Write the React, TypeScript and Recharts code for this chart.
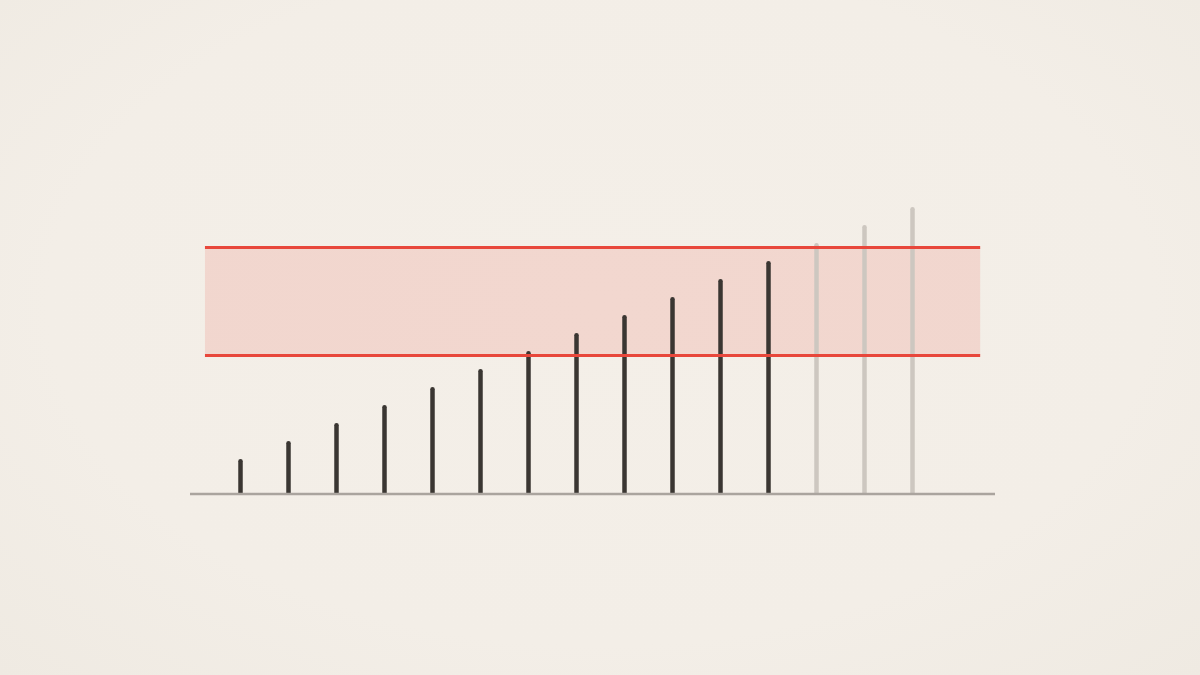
import React from "react";
import { ComposedChart, Bar, XAxis, YAxis, ReferenceArea, ReferenceLine } from "recharts";

const positions = [1, 2, 3, 4, 5, 6, 7, 8, 9, 10, 11, 12, 13, 14, 15];
const values = [35, 53, 71, 89, 107, 125, 143, 161, 179, 197, 215, 233, 251, 269, 287];
const faded = [false, false, false, false, false, false, false, false, false, false, false, false, true, true, true];
const bandLow = 138.5;
const bandHigh = 246.5;
const bandStart = 0.27;
const bandEnd = 16.42;
const xDomain: [number, number] = [-0.0417, 16.729];
const yDomain: [number, number] = [0, 494];

const data = positions.map((p, i) => ({ x: p, v: values[i], faded: faded[i] }));

const DARK = "#3a3632";
const FADED = "#cdc7c0";
const RED = "#e8473b";
const BASE = "#aaa49e";

const Stick = (props: any) => {
  const { x, y, width, height, payload } = props;
  const cx = x + width / 2;
  return (
    <line
      x1={cx}
      x2={cx}
      y1={y + 2.2}
      y2={y + height + 0.5}
      stroke={payload.faded ? FADED : DARK}
      strokeWidth={4.5}
      strokeLinecap="round"
    />
  );
};

export default function App() {
  return (
    <div
      style={{
        position: "fixed",
        left: 0,
        top: 0,
        width: 1200,
        height: 675,
        background: "radial-gradient(ellipse at 50% 45%, #f4efe8 0%, #f3eee7 65%, #efeae2 100%)",
      }}
    >
      <ComposedChart width={1200} height={675} data={data} margin={{ top: 0, right: 205, bottom: 181, left: 190 }}>
        <XAxis type="number" dataKey="x" domain={xDomain} allowDataOverflow hide />
        <YAxis type="number" domain={yDomain} allowDataOverflow hide />
        <ReferenceLine
          segment={[{ x: xDomain[0], y: 0 }, { x: xDomain[1], y: 0 }]}
          stroke={BASE}
          strokeWidth={2.5}
          ifOverflow="visible"
        />
        <Bar dataKey="v" barSize={5} shape={Stick} isAnimationActive={false} />
        <ReferenceArea
          x1={bandStart}
          x2={bandEnd}
          y1={bandLow}
          y2={bandHigh}
          fill={RED}
          fillOpacity={0.14}
          stroke="none"
          ifOverflow="visible"
        />
        <ReferenceLine
          segment={[{ x: bandStart, y: bandHigh }, { x: bandEnd, y: bandHigh }]}
          stroke={RED}
          strokeWidth={3}
          ifOverflow="visible"
        />
        <ReferenceLine
          segment={[{ x: bandStart, y: bandLow }, { x: bandEnd, y: bandLow }]}
          stroke={RED}
          strokeWidth={3}
          ifOverflow="visible"
        />
      </ComposedChart>
    </div>
  );
}
